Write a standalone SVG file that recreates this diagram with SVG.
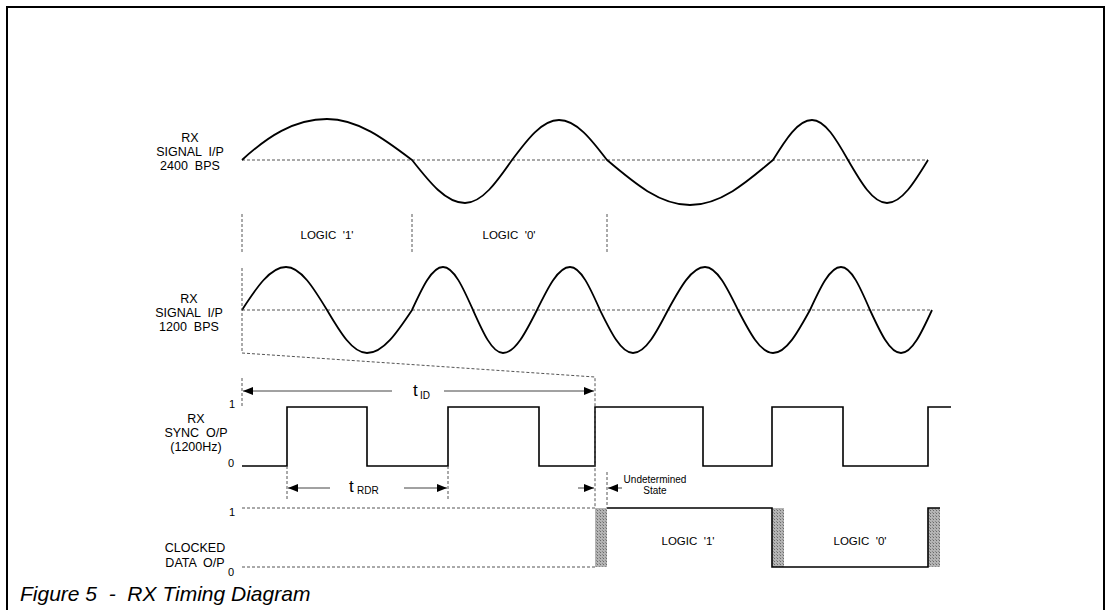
<svg xmlns="http://www.w3.org/2000/svg" width="1108" height="610" viewBox="0 0 1108 610">
<style>
text{font-family:"Liberation Sans",Arial,sans-serif;fill:#000;white-space:pre}
.lbl{font-size:12.5px;text-anchor:middle}
.lvl{font-size:11px;text-anchor:middle}
.logic{font-size:11.5px;text-anchor:middle}
.wave{fill:none;stroke:#000;stroke-width:1.8;stroke-linejoin:round}
.sq{fill:none;stroke:#000;stroke-width:1.6}
.dash{fill:none;stroke:#555;stroke-width:1;stroke-dasharray:3 2}
.dim{fill:none;stroke:#444;stroke-width:1}
.hatch{fill:url(#stip);stroke:none}
</style>
<defs>
<pattern id="stip" width="3" height="3" patternUnits="userSpaceOnUse">
<rect width="3" height="3" fill="#b4b4b4"/>
<rect width="1" height="1" fill="#6a6a6a"/>
<rect x="2" y="2" width="1" height="1" fill="#8a8a8a"/>
</pattern>
<marker id="ah" markerWidth="11" markerHeight="8" refX="10" refY="4" orient="auto-start-reverse" markerUnits="userSpaceOnUse">
<path d="M0,0 L10,4 L0,8 z" fill="#000"/>
</marker>
</defs>
<rect x="7" y="7" width="1097" height="640" fill="none" stroke="#000" stroke-width="2"/>

<g id="signal-2400">
<text class="lbl" x="190" y="142">RX</text>
<text class="lbl" x="190" y="156">SIGNAL  I/P</text>
<text class="lbl" x="190" y="170">2400  BPS</text>
<path class="dash" d="M242,160 H928"/>
<path class="wave" d="M242,160 C267,137 294,119 327,119 C357.8,119 384.3,139 412,160 C429.3,182 445.8,203 465,203 C482,203 496.7,182 512,160 C527.3,139.5 542,120 559,120 C576.4,120 591.4,139.5 607,160 C634.1,183 660,205 690,205 C720,205 745.9,183 773,160 C785.7,139.5 797.9,120 812,120 C825,120 836.3,139.5 848,160 C860.7,182 872.9,203 887,203 C901.8,203 914.6,182 928,160"/>
</g>

<g id="bits-2400">
<text class="logic" x="327" y="239">LOGIC  '1'</text>
<text class="logic" x="509" y="239">LOGIC  '0'</text>
</g>

<g id="signal-1200">
<text class="lbl" x="189" y="303">RX</text>
<text class="lbl" x="189" y="317">SIGNAL  I/P</text>
<text class="lbl" x="189" y="331">1200  BPS</text>
<path class="dash" d="M242,310 H932"/>
<path class="wave" d="M242,310 C256.3,288 270.1,267 286,267 C300.8,267 313.6,288 327,310 C340,332 352.5,353 367,353 C383.3,353 397.3,332 412,310 C422.1,288 431.8,267 443,267 C453.9,267 463.2,288 473,310 C482.8,332 492.1,353 503,353 C515.3,353 525.9,332 537,310 C547.8,288 558.1,267 570,267 C580.9,267 590.2,288 600,310 C610.8,332 621.1,353 633,353 C645.7,353 656.6,332 668,310 C680.1,288 691.6,267 705,267 C717,267 727.2,288 738,310 C749.4,332 760.3,353 773,353 C786.4,353 797.9,332 810,310 C820.1,288 829.8,267 841,267 C851.5,267 860.5,288 870,310 C880.1,332 889.8,353 901,353 C912.2,353 921.9,332 932,310"/>
</g>

<g id="sync">
<text class="lbl" x="196" y="423">RX</text>
<text class="lbl" x="196" y="437">SYNC  O/P</text>
<text class="lbl" x="196" y="451">(1200Hz)</text>
<text class="lvl" x="232" y="408">1</text>
<text class="lvl" x="231" y="467">0</text>
<path class="sq" d="M242,466 H287 V407 H367 V466 H448 V407 H539 V466 H595 V407 H703 V466 H772 V407 H843 V466 H928 V407 H951"/>
</g>

<g id="clocked">
<text class="lbl" x="195" y="552">CLOCKED</text>
<text class="lbl" x="195" y="567">DATA  O/P</text>
<text class="lvl" x="232" y="516">1</text>
<text class="lvl" x="231" y="576">0</text>
<path class="dash" d="M242,508 H595 M242,567 H595"/>
<rect class="hatch" x="595" y="508" width="12" height="59"/>
<rect class="hatch" x="772" y="508" width="12" height="59"/>
<rect class="hatch" x="928" y="508" width="12" height="59"/>
<path class="sq" d="M607,508 H772 V567 H928 V508 H940"/>
<text class="logic" x="688" y="545">LOGIC  '1'</text>
<text class="logic" x="860" y="545">LOGIC  '0'</text>
</g>

<g id="connectors">
<path class="dash" d="M242,214 V254 M412,214 V254 M607,214 V254"/>
<path class="dash" d="M242,268 V353 L595,377 V507"/>
<path class="dash" d="M242,378 V408"/>
<path class="dash" d="M287,466 V500 M448,466 V500"/>
<path class="dash" d="M607,472 V508"/>
<line class="dim" x1="392" y1="391" x2="243" y2="391" marker-end="url(#ah)"/>
<line class="dim" x1="444" y1="391" x2="594" y2="391" marker-end="url(#ah)"/>
<line class="dim" x1="330" y1="488" x2="288" y2="488" marker-end="url(#ah)"/>
<line class="dim" x1="404" y1="488" x2="447" y2="488" marker-end="url(#ah)"/>
<line class="dim" x1="578" y1="488" x2="594" y2="488" marker-end="url(#ah)"/>
<line class="dim" x1="622" y1="488" x2="608" y2="488" marker-end="url(#ah)"/>
</g>

<g id="timing-labels">
<text x="413" y="396" font-size="17">t</text>
<text x="420" y="399" font-size="10">ID</text>
<text x="349" y="492" font-size="17">t</text>
<text x="357" y="494" font-size="10">RDR</text>
<text x="655" y="483" font-size="10" text-anchor="middle">Undetermined</text>
<text x="655" y="494" font-size="10" text-anchor="middle">State</text>
</g>

<text x="20" y="601" font-size="21" font-style="italic">Figure 5  -  RX Timing Diagram</text>
</svg>
